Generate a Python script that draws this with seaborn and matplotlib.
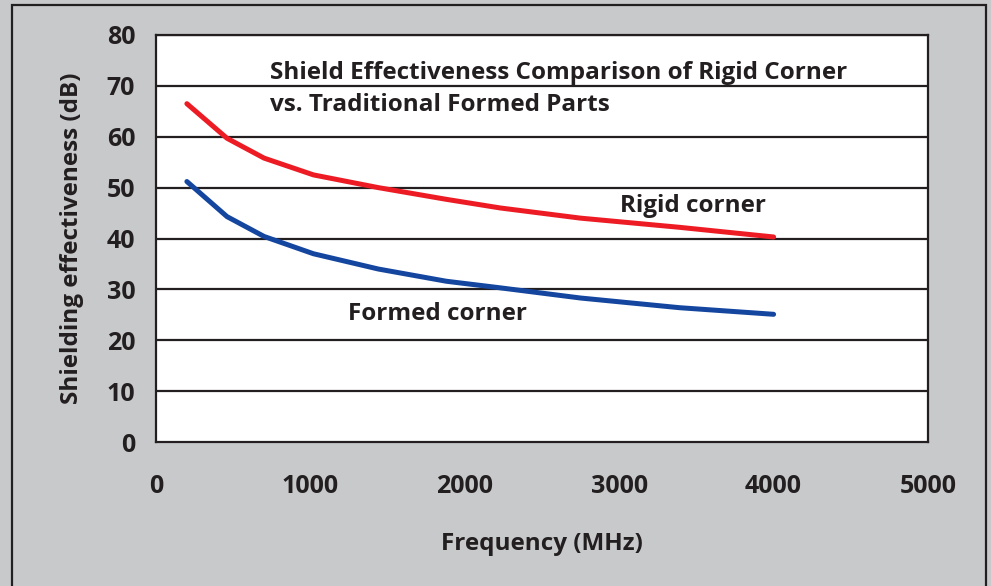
import matplotlib
matplotlib.use("Agg")
import matplotlib.pyplot as plt
import matplotlib.patches as mpatches
import seaborn as sns

# --- data ---
freq_mhz = [200, 460, 700, 1020, 1440, 1880, 2230, 2750, 3390, 4000]
rigid_db = [66.5, 59.7, 55.8, 52.5, 50.0, 47.7, 46.0, 44.0, 42.2, 40.3]
formed_db = [51.2, 44.3, 40.4, 37.0, 34.0, 31.6, 30.3, 28.3, 26.4, 25.1]

x_ticks = [0, 1000, 2000, 3000, 4000, 5000]
y_ticks = [0, 10, 20, 30, 40, 50, 60, 70, 80]

TEXT = "#231f20"
RED = "#ed1c24"
BLUE = "#1446a0"
BG = "#c8c9cb"

sns.set_style("white")
plt.rcParams["font.family"] = ["Open Sans", "DejaVu Sans"]
plt.rcParams["font.weight"] = "bold"

fig = plt.figure(figsize=(9.91, 5.86), dpi=100)
fig.patch.set_facecolor(BG)
ax = fig.add_axes([156 / 991, 1 - 442 / 586, (928 - 156) / 991, (442 - 35) / 586])
ax.set_facecolor("white")

# outer frame of the figure
fig.patches.append(mpatches.Rectangle((12 / 991, -0.02), (986 - 12) / 991, 1 - 5 / 586 + 0.02,
                                      transform=fig.transFigure, fill=False,
                                      edgecolor="#231f20", linewidth=1.6))

# horizontal grid lines only
for y in y_ticks[1:]:
    ax.axhline(y, color="#231f20", linewidth=1.6, zorder=1)

sns.lineplot(x=freq_mhz, y=rigid_db, ax=ax, color=RED, linewidth=3.6, zorder=3)
sns.lineplot(x=freq_mhz, y=formed_db, ax=ax, color=BLUE, linewidth=3.6, zorder=3)

ax.set_xlim(0, 5000)
ax.set_ylim(0, 80)
ax.set_xticks(x_ticks)
ax.set_yticks(y_ticks)
ax.tick_params(axis="x", length=0, pad=23, labelsize=18, labelcolor=TEXT)
ax.tick_params(axis="y", length=0, pad=15, labelsize=18, labelcolor=TEXT)
for lab in ax.get_xticklabels() + ax.get_yticklabels():
    lab.set_fontweight("bold")

for s in ax.spines.values():
    s.set_visible(True)
    s.set_color("#231f20")
    s.set_linewidth(1.6)

ax.set_xlabel("Frequency (MHz)", fontsize=17.5, fontweight="bold", color=TEXT, labelpad=24)
ax.set_ylabel("Shielding effectiveness (dB)", fontsize=17.5, fontweight="bold", color=TEXT, labelpad=16)

ax.text(740, 72.5, "Shield Effectiveness Comparison of Rigid Corner",
        fontsize=17.5, fontweight="bold", color=TEXT, va="center", ha="left")
ax.text(740, 66.3, "vs. Traditional Formed Parts",
        fontsize=17.5, fontweight="bold", color=TEXT, va="center", ha="left")
ax.text(3005, 46.3, "Rigid corner", fontsize=17.5, fontweight="bold", color=TEXT, va="center")
ax.text(1245, 25.1, "Formed corner", fontsize=17.5, fontweight="bold", color=TEXT, va="center")

fig.savefig("out.png", dpi=100, facecolor=BG)
